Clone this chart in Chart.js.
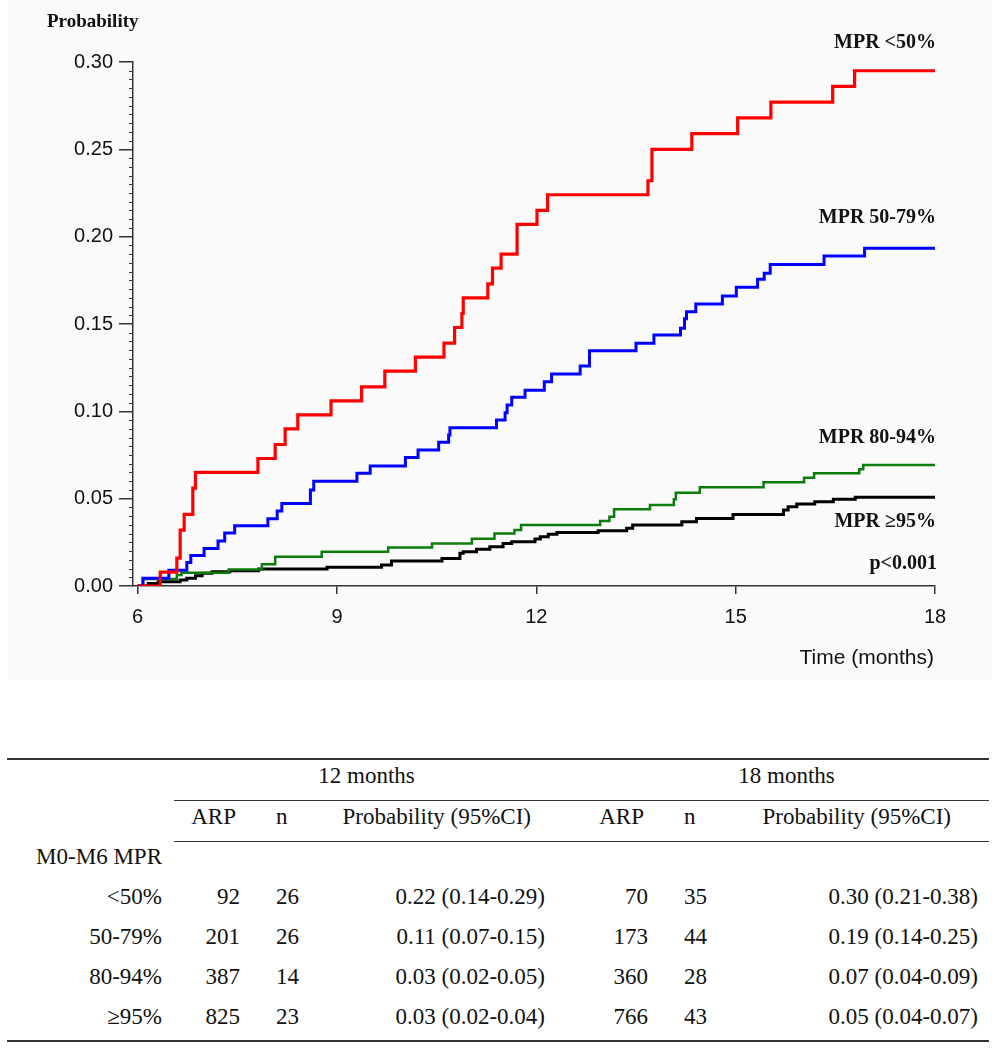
<!DOCTYPE html>
<html>
<head>
<meta charset="utf-8">
<title>Cumulative probability by M0-M6 MPR</title>
<script src="https://cdn.jsdelivr.net/npm/chart.js@4.4.1/dist/chart.umd.min.js"></script>
<style>
  body { margin: 0; background: #fff; width: 999px; height: 1050px; position: relative; overflow: hidden; }
  #plotBox { position: absolute; left: 8px; top: 0; width: 984px; height: 680px; background: #fafafa; }
  #kmChart { position: absolute; left: 0; top: 0; }
  #resTable {
    position: absolute; left: 7px; top: 758px;
    border-collapse: collapse; table-layout: fixed;
    font-family: "Liberation Serif", "Times New Roman", serif; font-size: 23px; color: #111;
    border-top: 2px solid #333; border-bottom: 2px solid #333;
  }
  #resTable tr { height: 40px; }
  #resTable tr.hd { height: 41px; }
  #resTable td { padding: 4px 0 0 0; vertical-align: top; line-height: 23px; white-space: nowrap; }
  #resTable .lbl { text-align: right; padding-right: 12px; }
  #resTable .num { text-align: right; padding-right: 12px; }
  #resTable .nn { text-align: left; padding-left: 24px; }
  #resTable .pr { text-align: right; padding-right: 14px; }
  #resTable .pr18 { text-align: right; padding-right: 11px; }
  #resTable .hd td.ul { border-bottom: 1.5px solid #333; }
</style>
</head>
<body>
<div id="plotBox"></div>
<canvas id="kmChart" width="999" height="690"></canvas>
<table id="resTable">
  <colgroup>
    <col style="width:167px"><col style="width:78px"><col style="width:68px"><col style="width:239px">
    <col style="width:101px"><col style="width:80px"><col style="width:249px">
  </colgroup>
  <tbody id="resBody"></tbody>
</table>

<script>
// --- DATA: step curves (time in months, cumulative probability) ---
const redTime  = [6.00, 6.34, 6.59, 6.64, 6.70, 6.83, 6.87, 7.81, 8.07, 8.22, 8.41, 8.91, 9.37, 9.72, 10.18, 10.61, 10.77, 10.88, 10.90, 11.27, 11.34, 11.47, 11.71, 12.01, 12.17, 13.68, 13.74, 14.34, 15.03, 15.53, 16.46, 16.79, 18.00];
const redProb  = [0, 0.008, 0.016, 0.032, 0.041, 0.056, 0.065, 0.073, 0.081, 0.090, 0.098, 0.106, 0.114, 0.123, 0.131, 0.139, 0.148, 0.156, 0.165, 0.173, 0.182, 0.190, 0.207, 0.215, 0.224, 0.232, 0.250, 0.259, 0.268, 0.277, 0.286, 0.295, 0.295];

const blueTime = [6.00, 6.08, 6.47, 6.74, 6.80, 7.00, 7.21, 7.31, 7.46, 7.96, 8.10, 8.17, 8.60, 8.65, 9.30, 9.50, 10.03, 10.22, 10.53, 10.68, 10.70, 11.40, 11.53, 11.56, 11.63, 11.83, 12.12, 12.23, 12.66, 12.80, 13.50, 13.77, 14.17, 14.23, 14.26, 14.40, 14.80, 15.01, 15.33, 15.43, 15.52, 16.33, 16.94, 18.00];
const blueProb = [0, 0.0045, 0.009, 0.0135, 0.0175, 0.0215, 0.0258, 0.0303, 0.0345, 0.0385, 0.043, 0.0473, 0.055, 0.060, 0.0645, 0.0687, 0.0735, 0.0779, 0.0823, 0.0864, 0.0906, 0.095, 0.0992, 0.1036, 0.108, 0.112, 0.117, 0.1214, 0.126, 0.1347, 0.139, 0.1437, 0.1475, 0.153, 0.157, 0.1614, 0.166, 0.171, 0.1756, 0.179, 0.184, 0.189, 0.1933, 0.1933];

const greenTime = [6.00, 6.08, 6.59, 6.66, 7.37, 7.87, 8.07, 8.77, 9.77, 10.43, 11.03, 11.37, 11.67, 11.77, 12.96, 13.10, 13.17, 13.71, 14.07, 14.10, 14.46, 15.42, 16.03, 16.18, 16.86, 16.92, 18.00];
const greenProb = [0, 0.004, 0.0063, 0.0076, 0.0095, 0.0124, 0.0168, 0.0196, 0.022, 0.0244, 0.0271, 0.030, 0.032, 0.0349, 0.0372, 0.0397, 0.044, 0.0464, 0.0496, 0.0534, 0.0565, 0.0594, 0.062, 0.0645, 0.0668, 0.0693, 0.0693];

const blackTime = [6.00, 6.16, 6.31, 6.64, 6.74, 6.87, 6.97, 7.12, 7.39, 7.82, 8.85, 9.67, 9.82, 10.58, 10.85, 10.90, 11.10, 11.30, 11.50, 11.63, 11.98, 12.06, 12.18, 12.31, 12.93, 13.36, 13.45, 14.19, 14.41, 14.96, 15.72, 15.79, 15.92, 16.19, 16.47, 16.80, 18.00];
const blackProb = [0, 0.0015, 0.0025, 0.0034, 0.0044, 0.0059, 0.0073, 0.0082, 0.0088, 0.0097, 0.0107, 0.012, 0.0143, 0.0158, 0.0187, 0.0196, 0.021, 0.0225, 0.0244, 0.0254, 0.0269, 0.0282, 0.0296, 0.0307, 0.0317, 0.033, 0.0349, 0.0368, 0.0387, 0.041, 0.0435, 0.0454, 0.047, 0.0483, 0.0496, 0.0508, 0.0508];

// Axis ticks
const xTicks = [6, 9, 12, 15, 18];
const yTicks = [0, 0.05, 0.10, 0.15, 0.20, 0.25, 0.30];

// Curve labels (right side of the plot)
const curveLabels = ['MPR <50%', 'MPR 50-79%', 'MPR 80-94%', 'MPR \u226595%'];
const pValueText = 'p<0.001';

// --- DATA: table under the chart ---
const groupLabels = ['<50%', '50-79%', '80-94%', '\u226595%'];
const arp12  = [92, 201, 387, 825];
const n12    = [26, 26, 14, 23];
const prob12 = ['0.22 (0.14-0.29)', '0.11 (0.07-0.15)', '0.03 (0.02-0.05)', '0.03 (0.02-0.04)'];
const arp18  = [70, 173, 360, 766];
const n18    = [35, 44, 28, 43];
const prob18 = ['0.30 (0.21-0.38)', '0.19 (0.14-0.25)', '0.07 (0.04-0.09)', '0.05 (0.04-0.07)'];

// helper: pair times and probabilities into {x, y}
function toPoints(times, probs) {
    return times.map((t, i) => ({ x: t, y: probs[i] }));
}

// --- PLUGIN: minor ticks on the y axis ---
const minorTicks = {
    id: 'minorTicks',
    afterDraw(chart) {
        const ctx = chart.ctx;
        const y = chart.scales.y;
        ctx.save();
        ctx.strokeStyle = '#333';
        ctx.lineWidth = 1;
        for (let i = 1; i < 60; i++) {
            if (i % 10 === 0) continue;
            const py = Math.round(y.getPixelForValue(i * 0.005)) + 0.5;
            ctx.beginPath();
            ctx.moveTo(y.right - 4, py);
            ctx.lineTo(y.right, py);
            ctx.stroke();
        }
        ctx.restore();
    }
};

// --- PLUGIN: text (axis titles, curve labels, p value) ---
const chartTexts = {
    id: 'chartTexts',
    afterDraw(chart) {
        const ctx = chart.ctx;
        const right = chart.chartArea.right + 1;
        ctx.save();
        ctx.fillStyle = '#111';
        ctx.textBaseline = 'alphabetic';

        ctx.font = 'bold 19px "Liberation Serif", "Times New Roman", serif';
        ctx.textAlign = 'left';
        ctx.fillText('Probability', 47, 27);

        ctx.font = 'bold 20px "Liberation Serif", "Times New Roman", serif';
        ctx.textAlign = 'right';
        const labelBase = [48, 223, 443, 527];
        curveLabels.forEach((txt, i) => ctx.fillText(txt, right, labelBase[i]));
        ctx.fillText(pValueText, right + 1, 569);

        ctx.font = '21px "Liberation Sans", Arial, sans-serif';
        ctx.fillText('Time (months)', right - 2, 664);
        ctx.restore();
    }
};

// --- CHART ---
const ctxKm = document.getElementById('kmChart').getContext('2d');
const kmChart = new Chart(ctxKm, {
    type: 'line',
    data: {
        datasets: [
            { label: curveLabels[0], data: toPoints(redTime, redProb),     borderColor: '#ff0000', borderWidth: 3.2, stepped: 'before' },
            { label: curveLabels[1], data: toPoints(blueTime, blueProb),   borderColor: '#0000ff', borderWidth: 3,   stepped: 'before' },
            { label: curveLabels[2], data: toPoints(greenTime, greenProb), borderColor: '#0a7d0a', borderWidth: 2.5, stepped: 'before' },
            { label: curveLabels[3], data: toPoints(blackTime, blackProb), borderColor: '#000000', borderWidth: 3,   stepped: 'before' }
        ]
    },
    options: {
        responsive: false,
        animation: false,
        layout: { padding: { top: 62, right: 64, left: 0, bottom: 0 } },
        elements: {
            point: { radius: 0 },
            line: { tension: 0, fill: false }
        },
        plugins: {
            legend: { display: false },
            tooltip: { enabled: false }
        },
        scales: {
            x: {
                type: 'linear',
                min: 5.93,
                max: 18,
                afterBuildTicks: (s) => { s.ticks = xTicks.map(v => ({ value: v })); },
                afterFit: (s) => { s.height = 104; },
                grid: { drawOnChartArea: false, tickLength: 8, color: '#333', lineWidth: 1.5 },
                border: { color: '#333', width: 1.5 },
                ticks: {
                    color: '#111',
                    padding: 11,
                    maxRotation: 0,
                    font: { family: '"Liberation Sans", Arial, sans-serif', size: 20 }
                }
            },
            y: {
                type: 'linear',
                min: 0,
                max: 0.30,
                afterBuildTicks: (s) => { s.ticks = yTicks.map(v => ({ value: v })); },
                afterFit: (s) => { s.width = 133; },
                grid: { drawOnChartArea: false, tickLength: 14, color: '#333', lineWidth: 1.5 },
                border: { color: '#333', width: 1.5 },
                ticks: {
                    color: '#111',
                    padding: 6,
                    callback: (v) => Number(v).toFixed(2),
                    font: { family: '"Liberation Sans", Arial, sans-serif', size: 20 }
                }
            }
        }
    },
    plugins: [minorTicks, chartTexts]
});

// --- TABLE ---
const body = document.getElementById('resBody');
let html = '';
html += '<tr class="hd"><td></td><td class="ul" colspan="3" style="text-align:center">12 months</td>' +
        '<td class="ul" colspan="3" style="text-align:center;padding-left:25px">18 months</td></tr>';
html += '<tr class="hd"><td></td>' +
        '<td class="ul" style="text-align:right;padding-right:16px">ARP</td>' +
        '<td class="ul nn">n</td>' +
        '<td class="ul" style="text-align:right;padding-right:28px">Probability (95%CI)</td>' +
        '<td class="ul" style="text-align:right;padding-right:16px">ARP</td>' +
        '<td class="ul nn">n</td>' +
        '<td class="ul" style="text-align:right;padding-right:38px">Probability (95%CI)</td></tr>';
html += '<tr><td class="lbl">M0-M6 MPR</td><td colspan="6"></td></tr>';
groupLabels.forEach((g, i) => {
    html += '<tr><td class="lbl">' + g.replace('<', '&lt;') + '</td>' +
            '<td class="num">' + arp12[i] + '</td>' +
            '<td class="nn">' + n12[i] + '</td>' +
            '<td class="pr">' + prob12[i] + '</td>' +
            '<td class="num">' + arp18[i] + '</td>' +
            '<td class="nn">' + n18[i] + '</td>' +
            '<td class="pr18">' + prob18[i] + '</td></tr>';
});
body.innerHTML = html;
</script>
</body>
</html>
